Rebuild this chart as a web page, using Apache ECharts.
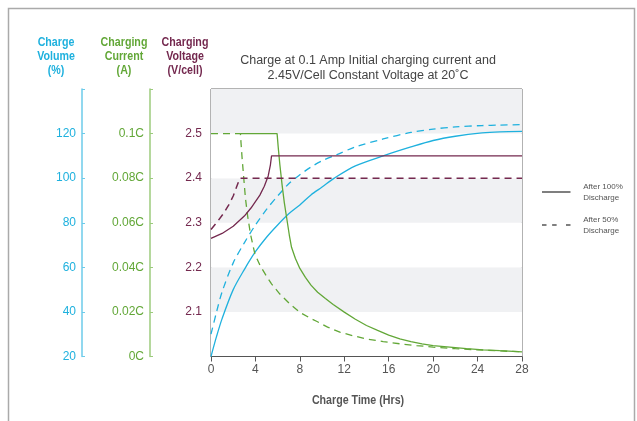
<!DOCTYPE html>
<html><head><meta charset="utf-8">
<script src="https://cdn.jsdelivr.net/npm/echarts@6/dist/echarts.min.js"></script>
<style>html,body{margin:0;padding:0;background:#fff}#c{width:637px;height:421px}</style>
</head><body><div id="c"></div>
<script>
// ---- data ----
const xTicks = [0, 4, 8, 12, 16, 20, 24, 28];
const volTicks = [20, 40, 60, 80, 100, 120];
const curTickLabels = ['0C', '0.02C', '0.04C', '0.06C', '0.08C', '0.1C'];
const voltTicks = [2.1, 2.2, 2.3, 2.4, 2.5];

const vol100T = [0, 0.5, 1, 2, 3, 4, 5, 6, 7, 8, 9, 10, 11.1, 13, 15.5, 18, 20, 22, 24.4, 26, 28];
const vol100V = [20, 29, 37, 50, 59, 67, 73.5, 79, 84, 88, 92.5, 96, 100, 105.5, 110, 114, 116.9, 118.8, 120.3, 120.8, 121];
const vol50T = [0, 0.5, 1, 2, 3, 4, 5, 6, 7, 8, 9, 10, 11.3, 13, 15.5, 18, 20, 22, 24.4, 26, 28];
const vol50V = [30, 40, 49, 62, 71, 79, 86, 92, 97.5, 101.5, 105, 107.8, 110.5, 114, 117.6, 120.5, 122, 123, 123.6, 123.8, 124];

const cur100T = [2.65, 5.95, 6.05, 6.2, 6.4, 6.6, 6.85, 7.05, 7.25, 7.6, 8, 8.5, 9, 9.6, 10.3, 11, 12, 13, 14, 15, 16, 17, 18, 19, 20, 21.5, 23, 24.5, 26, 28];
const cur100V = [0.1, 0.1, 0.094, 0.086, 0.077, 0.069, 0.061, 0.0545, 0.049, 0.044, 0.0395, 0.0355, 0.032, 0.0288, 0.026, 0.0233, 0.0199, 0.0167, 0.0139, 0.0117, 0.0096, 0.0079, 0.0067, 0.0057, 0.0049, 0.0042, 0.0035, 0.003, 0.0026, 0.0021];
const cur50T = [0, 2.65, 2.7, 2.8, 2.95, 3.1, 3.3, 3.55, 3.95, 4.4, 5, 5.45, 6.2, 7.1, 8, 9, 9.5, 10.5, 11.6, 12.8, 14, 15.5, 17, 18.5, 20, 22, 24, 26, 28];
const cur50V = [0.1, 0.1, 0.096, 0.089, 0.08, 0.071, 0.063, 0.055, 0.046, 0.041, 0.036, 0.0326, 0.028, 0.0236, 0.0198, 0.017, 0.0158, 0.0132, 0.0109, 0.0093, 0.0079, 0.0067, 0.0057, 0.0049, 0.0042, 0.0035, 0.003, 0.0025, 0.0021];

const volt100T = [0, 1, 2, 3, 3.6, 4.4, 4.8, 5.15, 5.35, 5.45, 28];
const volt100V = [2.265, 2.276, 2.292, 2.315, 2.333, 2.362, 2.382, 2.405, 2.43, 2.45, 2.45];
const volt50T = [0, 0.5, 1.1, 1.6, 2, 2.3, 2.6, 28];
const volt50V = [2.285, 2.3, 2.32, 2.34, 2.36, 2.38, 2.4, 2.4];

const legendNames = ['After 100%\nDischarge', 'After 50%\nDischarge'];
const mainTitle = 'Charge at 0.1 Amp Initial charging current and\n2.45V/Cell Constant Voltage at 20˚C';
const axisTitles = ['Charge\nVolume\n(%)', 'Charging\nCurrent\n(A)', 'Charging\nVoltage\n(V/cell)'];
const xName = 'Charge Time (Hrs)';

// ---- style ----
const CYAN = '#1fb1de', GREEN = '#62a737', MAROON = '#74294f', GRAY = '#555';
const SANS = "'Liberation Sans',Arial,sans-serif";
const BOLD = "bold 13px 'Liberation Sans',Arial,sans-serif";
const pairs = (t, v) => t.map((x, i) => [x, v[i]]);
const r2 = v => Math.round(v * 1000) / 1000;
const narrowText = (text, x, y, fill) => ({type: 'text', x: x, y: y, scaleX: 0.82, silent: true,
  style: {text: text, align: 'center', verticalAlign: 'top', fill: fill, font: BOLD, lineHeight: 14}});

const chart = echarts.init(document.getElementById('c'), null, {renderer: 'canvas'});
chart.setOption({
  animation: false,
  backgroundColor: '#fff',
  grid: {left: 211, right: 115, top: 89, bottom: 64.5, show: true, borderColor: '#666', borderWidth: 1, backgroundColor: 'transparent'},
  xAxis: {
    type: 'value', min: 0, max: 28, interval: 4,
    axisLine: {lineStyle: {color: GRAY}}, axisTick: {length: 5, lineStyle: {color: GRAY}},
    axisLabel: {color: GRAY, fontSize: 12, fontFamily: SANS, margin: 7,
      formatter: v => xTicks.includes(v) ? String(v) : ''},
    splitLine: {show: false}
  },
  yAxis: [
    { // voltage
      type: 'value', min: 2.0, max: 2.6, interval: 0.1, position: 'left', offset: 0,
      axisLine: {show: false}, axisTick: {show: false},
      axisLabel: {color: MAROON, fontSize: 12, fontFamily: SANS, margin: 9,
        formatter: v => voltTicks.includes(r2(v)) ? r2(v).toFixed(1) : ''},
      splitLine: {show: false},
      splitArea: {show: true, areaStyle: {color: ['#ffffff', '#f0f1f3']}}
    },
    { // volume
      type: 'value', min: 20, max: 140, interval: 20, position: 'left', offset: 129,
      axisLine: {show: true, lineStyle: {color: '#6ccbea', width: 1.5}},
      axisTick: {show: true, inside: true, length: 3, lineStyle: {color: '#6ccbea'}},
      axisLabel: {color: CYAN, fontSize: 12, fontFamily: SANS, margin: 6,
        formatter: v => volTicks.includes(r2(v)) ? String(r2(v)) : ''},
      splitLine: {show: false}
    },
    { // current
      type: 'value', min: 0, max: 0.12, interval: 0.02, position: 'left', offset: 61,
      axisLine: {show: true, lineStyle: {color: '#9ccb7c', width: 1.5}},
      axisTick: {show: true, inside: true, length: 3, lineStyle: {color: '#9ccb7c'}},
      axisLabel: {color: GREEN, fontSize: 12, fontFamily: SANS, margin: 6,
        formatter: v => { const i = Math.round(v / 0.02); return (Math.abs(v - i * 0.02) < 1e-6 && i < curTickLabels.length) ? curTickLabels[i] : ''; }},
      splitLine: {show: false}
    }
  ],
  legend: {
    orient: 'vertical', left: 537, top: 176, itemWidth: 38, itemHeight: 1.5, itemGap: 11,
    textStyle: {color: GRAY, fontSize: 8, fontFamily: SANS, lineHeight: 11, padding: [0, 0, 0, 3]},
    itemStyle: {color: GRAY, borderWidth: 0},
    data: [
      {name: legendNames[0], icon: 'path://M0,0H38V2H0Z'},
      {name: legendNames[1], icon: 'path://M0,0H6V2H0ZM13.5,0H19.5V2H13.5ZM32,0H38V2H32Z'}
    ],
    selectedMode: false
  },
  graphic: [
    {type: 'rect', shape: {x: 8.5, y: 8.5, width: 626, height: 440}, style: {fill: 'none', stroke: '#aaa', lineWidth: 1.5}, silent: true},
    {type: 'text', x: 368, y: 53, silent: true, style: {text: mainTitle, align: 'center', verticalAlign: 'top', fill: '#444', font: "12.5px " + SANS, lineHeight: 15}},
    narrowText(axisTitles[0], 56, 35, CYAN),
    narrowText(axisTitles[1], 124, 35, GREEN),
    narrowText(axisTitles[2], 185, 35, MAROON),
    narrowText(xName, 358, 393, GRAY)
  ],
  series: [
    {name: legendNames[0], type: 'line', data: [], symbol: 'none', lineStyle: {color: GRAY, width: 1.5}, itemStyle: {color: GRAY}},
    {name: legendNames[1], type: 'line', data: [], symbol: 'none', lineStyle: {color: GRAY, width: 1.5, type: [6, 5]}, itemStyle: {color: GRAY}},
    {type: 'line', yAxisIndex: 1, data: pairs(vol100T, vol100V), symbol: 'none', smooth: 0.3, lineStyle: {color: CYAN, width: 1.3}},
    {type: 'line', yAxisIndex: 1, data: pairs(vol50T, vol50V), symbol: 'none', smooth: 0.3, lineStyle: {color: CYAN, width: 1.3, type: [7, 5]}},
    {type: 'line', yAxisIndex: 2, data: pairs(cur100T, cur100V), symbol: 'none', lineStyle: {color: GREEN, width: 1.3}},
    {type: 'line', yAxisIndex: 2, data: pairs(cur50T, cur50V), symbol: 'none', lineStyle: {color: GREEN, width: 1.3, type: [7, 5]}},
    {type: 'line', yAxisIndex: 0, data: pairs(volt100T, volt100V), symbol: 'none', lineStyle: {color: MAROON, width: 1.3}},
    {type: 'line', yAxisIndex: 0, data: pairs(volt50T, volt50V), symbol: 'none', lineStyle: {color: MAROON, width: 1.5, type: [7, 5]}}
  ]
});
</script></body></html>
